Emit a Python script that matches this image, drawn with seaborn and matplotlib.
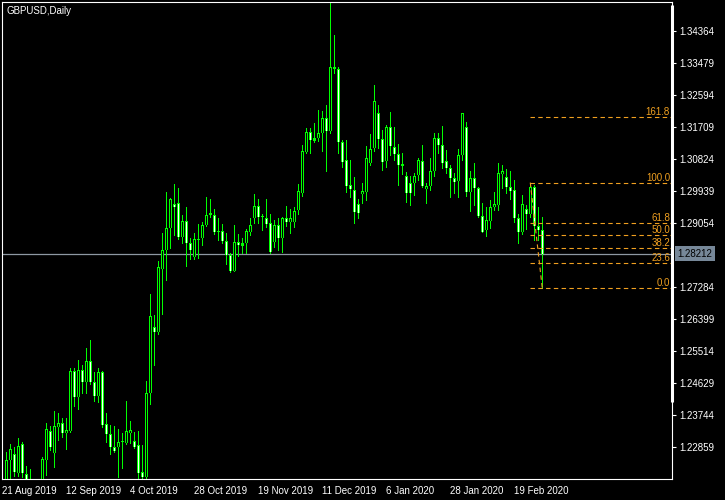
import matplotlib
matplotlib.use("Agg")
import matplotlib.pyplot as plt
import matplotlib.transforms as mtransforms
import seaborn as sns
import pandas as pd

# GBPUSD daily bars, 22 Aug 2019 .. 28 Feb 2020
open_ = [1.2140, 1.2251, 1.2267, 1.2214, 1.2295, 1.2212, 1.2170, 1.2150, 1.2060, 1.2065,
         1.2251, 1.2330, 1.2271, 1.2343, 1.2352, 1.2326, 1.2332, 1.2497, 1.2426, 1.2499,
         1.2467, 1.2524, 1.2466, 1.2428, 1.2493, 1.2350, 1.2322, 1.2286, 1.2286, 1.2300,
         1.2299, 1.2326, 1.2303, 1.2292, 1.2217, 1.2203, 1.2435, 1.2619, 1.2605, 1.2779,
         1.2831, 1.2891, 1.2958, 1.2960, 1.2868, 1.2911, 1.2849, 1.2811, 1.2859, 1.2863,
         1.2899, 1.2934, 1.2927, 1.2882, 1.2883, 1.2856, 1.2817, 1.2774, 1.2852, 1.2843,
         1.2849, 1.2880, 1.2920, 1.2952, 1.2923, 1.2920, 1.2905, 1.2852, 1.2900, 1.2863,
         1.2918, 1.2909, 1.2909, 1.2941, 1.2989, 1.3102, 1.3156, 1.3133, 1.3139, 1.3153,
         1.3195, 1.3160, 1.3335, 1.3331, 1.3128, 1.3079, 1.3010, 1.2996, 1.2959, 1.2985,
         1.2992, 1.3070, 1.3112, 1.3208, 1.3137, 1.3077, 1.3170, 1.3116, 1.3096, 1.3068,
         1.3036, 1.3015, 1.3015, 1.3038, 1.3078, 1.2999, 1.3007, 1.3049, 1.3139, 1.3121,
         1.3077, 1.3057, 1.3029, 1.3021, 1.3093, 1.3170, 1.2992, 1.3029, 1.3001, 1.2925,
         1.2886, 1.2912, 1.2950, 1.2955, 1.3041, 1.3032, 1.3004, 1.2997, 1.2918, 1.2880,
         1.2943, 1.2930, 1.3004, 1.2897, 1.2886]
high = [1.2274, 1.2295, 1.2286, 1.2312, 1.2300, 1.2234, 1.2226, 1.2170, 1.2090, 1.2259,
        1.2353, 1.2345, 1.2386, 1.2381, 1.2367, 1.2367, 1.2504, 1.2506, 1.2527, 1.2513,
        1.2561, 1.2582, 1.2493, 1.2506, 1.2497, 1.2380, 1.2347, 1.2345, 1.2336, 1.2325,
        1.2415, 1.2359, 1.2329, 1.2330, 1.2292, 1.2469, 1.2709, 1.2651, 1.2800, 1.2878,
        1.2991, 1.2974, 1.3013, 1.3002, 1.2928, 1.2950, 1.2863, 1.2877, 1.2904, 1.2907,
        1.2976, 1.2973, 1.2943, 1.2918, 1.2904, 1.2877, 1.2822, 1.2900, 1.2875, 1.2863,
        1.2888, 1.2918, 1.2985, 1.2972, 1.2930, 1.2972, 1.2930, 1.2914, 1.2920, 1.2923,
        1.2952, 1.2943, 1.2950, 1.3013, 1.3121, 1.3168, 1.3167, 1.3181, 1.3217, 1.3215,
        1.3231, 1.3514, 1.3425, 1.3337, 1.3135, 1.3135, 1.3079, 1.3033, 1.2972, 1.3017,
        1.3119, 1.3150, 1.3286, 1.3231, 1.3162, 1.3176, 1.3212, 1.3170, 1.3123, 1.3098,
        1.3045, 1.3034, 1.3043, 1.3085, 1.3121, 1.3015, 1.3084, 1.3155, 1.3155, 1.3173,
        1.3107, 1.3066, 1.3043, 1.3110, 1.3210, 1.3185, 1.3050, 1.3072, 1.3004, 1.2960,
        1.2949, 1.2969, 1.2990, 1.3072, 1.3066, 1.3055, 1.3050, 1.3024, 1.2930, 1.2983,
        1.2955, 1.3017, 1.3010, 1.2949, 1.2923]
low = [1.2130, 1.2190, 1.2208, 1.2208, 1.2205, 1.2160, 1.2140, 1.2050, 1.1959, 1.2060,
       1.2209, 1.2278, 1.2232, 1.2306, 1.2314, 1.2282, 1.2329, 1.2400, 1.2391, 1.2437,
       1.2437, 1.2460, 1.2415, 1.2412, 1.2343, 1.2300, 1.2267, 1.2273, 1.2203, 1.2228,
       1.2296, 1.2299, 1.2283, 1.2199, 1.2196, 1.2196, 1.2407, 1.2513, 1.2598, 1.2655,
       1.2748, 1.2837, 1.2872, 1.2860, 1.2849, 1.2787, 1.2805, 1.2805, 1.2808, 1.2846,
       1.2897, 1.2923, 1.2874, 1.2858, 1.2851, 1.2792, 1.2769, 1.2772, 1.2815, 1.2822,
       1.2822, 1.2871, 1.2906, 1.2906, 1.2886, 1.2895, 1.2822, 1.2840, 1.2831, 1.2826,
       1.2897, 1.2879, 1.2895, 1.2929, 1.2980, 1.3098, 1.3100, 1.3130, 1.3133, 1.3104,
       1.3050, 1.3155, 1.3320, 1.3100, 1.3061, 1.2990, 1.2978, 1.2905, 1.2918, 1.2960,
       1.2969, 1.3066, 1.3105, 1.3112, 1.3052, 1.3059, 1.3093, 1.3079, 1.3010, 1.3041,
       1.2963, 1.2954, 1.2983, 1.3024, 1.3006, 1.2962, 1.2997, 1.3034, 1.3098, 1.3056,
       1.3043, 1.2976, 1.2989, 1.2978, 1.3079, 1.2980, 1.2939, 1.2955, 1.2921, 1.2880,
       1.2870, 1.2891, 1.2941, 1.2941, 1.3001, 1.2987, 1.2971, 1.2909, 1.2849, 1.2875,
       1.2888, 1.2921, 1.2858, 1.2858, 1.2725]
close = [1.2251, 1.2281, 1.2217, 1.2289, 1.2214, 1.2170, 1.2155, 1.2060, 1.2065, 1.2253,
         1.2336, 1.2286, 1.2345, 1.2352, 1.2326, 1.2333, 1.2497, 1.2426, 1.2499, 1.2467,
         1.2524, 1.2467, 1.2428, 1.2493, 1.2348, 1.2322, 1.2286, 1.2277, 1.2302, 1.2301,
         1.2330, 1.2334, 1.2288, 1.2216, 1.2203, 1.2436, 1.2648, 1.2605, 1.2783, 1.2831,
         1.2891, 1.2971, 1.2949, 1.2868, 1.2911, 1.2849, 1.2831, 1.2861, 1.2861, 1.2899,
         1.2927, 1.2927, 1.2880, 1.2884, 1.2856, 1.2816, 1.2774, 1.2852, 1.2844, 1.2849,
         1.2883, 1.2899, 1.2952, 1.2923, 1.2925, 1.2904, 1.2826, 1.2900, 1.2863, 1.2918,
         1.2909, 1.2918, 1.2938, 1.2994, 1.3104, 1.3156, 1.3135, 1.3139, 1.3153, 1.3195,
         1.3160, 1.3335, 1.3330, 1.3128, 1.3075, 1.3008, 1.3000, 1.2935, 1.2933, 1.2994,
         1.3085, 1.3111, 1.3243, 1.3137, 1.3075, 1.3170, 1.3119, 1.3096, 1.3066, 1.3064,
         1.2987, 1.2987, 1.3036, 1.3079, 1.3008, 1.3008, 1.3049, 1.3139, 1.3121, 1.3070,
         1.3057, 1.3029, 1.3019, 1.3093, 1.3208, 1.2992, 1.3029, 1.3001, 1.2925, 1.2881,
         1.2915, 1.2949, 1.2958, 1.3043, 1.3049, 1.3004, 1.2995, 1.2918, 1.2880, 1.2957,
         1.2930, 1.3004, 1.2897, 1.2887, 1.28212]

date_labels = ["21 Aug 2019", "12 Sep 2019", "4 Oct 2019", "28 Oct 2019", "19 Nov 2019",
               "11 Dec 2019", "6 Jan 2020", "28 Jan 2020", "19 Feb 2020"]
date_label_bars = [-1, 15, 31, 47, 63, 79, 95, 111, 127]
price_ticks = [1.34364, 1.33479, 1.32594, 1.31709, 1.30824, 1.29939, 1.29054,
               1.27284, 1.26399, 1.25514, 1.24629, 1.23744, 1.22859]
last_price = 1.28212
fib_levels = [0.0, 23.6, 38.2, 50.0, 61.8, 100.0, 161.8]
fib_from_bar = 131   # swing high
fib_to_bar = 134     # swing low

ymin, ymax = 1.21987, 1.35148
px = (ymax - ymin) / 476.7   # price per screen pixel

df = pd.DataFrame({"open": open_, "high": high, "low": low, "close": close})
df["bar"] = range(len(df))
df["bull"] = df["close"] >= df["open"]
df["body_lo"] = df[["open", "close"]].min(axis=1)
df["body_hi"] = df[["open", "close"]].max(axis=1)
df["body_h"] = (df["body_hi"] - df["body_lo"]).clip(lower=px)

sns.set_theme(style="dark", rc={
    "axes.facecolor": "black",
    "figure.facecolor": "black",
    "axes.edgecolor": "white",
    "axes.linewidth": 0.8,
    "xtick.color": "white",
    "ytick.color": "white",
    "text.color": "white",
    "axes.grid": False,
})
plt.rcParams["font.family"] = ["Liberation Sans", "DejaVu Sans"]

lime = "#00ff00"
orange = "#f0a020"
slate = "#778899"

fig = plt.figure(figsize=(7.25, 5), dpi=100)
ax = fig.add_axes([2.3 / 725, 1 - 479 / 500, 670 / 725, 476.7 / 500])

# wicks
ax.vlines(df["bar"], df["low"], df["high"], colors=lime, lw=0.72, zorder=2, antialiased=False)
# body outline: a 3 px lime block
ax.bar(df["bar"], df["body_h"], bottom=df["body_lo"], width=0.75, color=lime,
       lw=0, zorder=3, antialiased=False)
# body fill, 1 px wide: black = up, white = down
inner = df[(df["body_hi"] - df["body_lo"]) > 2.2 * px]
ax.vlines(inner["bar"], inner["body_lo"] + px, inner["body_hi"] - px,
          colors=["black" if b else "white" for b in inner["bull"]],
          lw=0.72, zorder=4, antialiased=False)

# current price line
ax.axhline(last_price, color="#8e98a2", lw=0.9, zorder=1)

# fibonacci retracement
f_hi = df.loc[fib_from_bar, "high"]
f_lo = df.loc[fib_to_bar, "low"]
xmax = 166.5
blend = mtransforms.blended_transform_factory(ax.transAxes, ax.transData)
for lev in fib_levels:
    p = f_lo + (f_hi - f_lo) * lev / 100
    ax.plot([fib_from_bar - 0.05, xmax], [p, p], color=orange, lw=0.8,
            dashes=(4, 3), zorder=5)
    ax.text(0.9965, p, f"{lev:.1f}", transform=blend, ha="right", va="bottom",
            color=orange, fontsize=7)
ax.plot([fib_from_bar, fib_to_bar], [f_hi, f_lo], color=orange, lw=0.8,
        dashes=(4, 3), zorder=5)

ax.set_xlim(-1.0, xmax)
ax.set_ylim(ymin, ymax)

ax.yaxis.tick_right()
ax.set_yticks(price_ticks)
ax.set_yticklabels([f"{p:.5f}" for p in price_ticks])
ax.set_xticks(date_label_bars)
ax.set_xticklabels(date_labels, ha="left")
ax.tick_params(axis="both", direction="out", length=3, width=0.8, labelsize=7,
               colors="white", pad=2)
ax.tick_params(axis="x", pad=2)

# price tag on the scale
ax.text(1.0 + 5 / 670, last_price, f"{last_price:.5f}", transform=blend, ha="left",
        va="center", fontsize=7, color="black",
        bbox=dict(boxstyle="square,pad=0.25", fc=slate, ec="none"))

# thick part of the right border
ax.plot([1, 1], [0.1615, 0.994], transform=ax.transAxes, color="white", lw=2.2,
        clip_on=False, solid_capstyle="butt", zorder=6)

ax.text(0.006, 0.982, "GBPUSD,Daily", transform=ax.transAxes, ha="left", va="center",
        fontsize=7, color="white")

fig.savefig("out.png", dpi=100, facecolor="black")
plt.close(fig)
